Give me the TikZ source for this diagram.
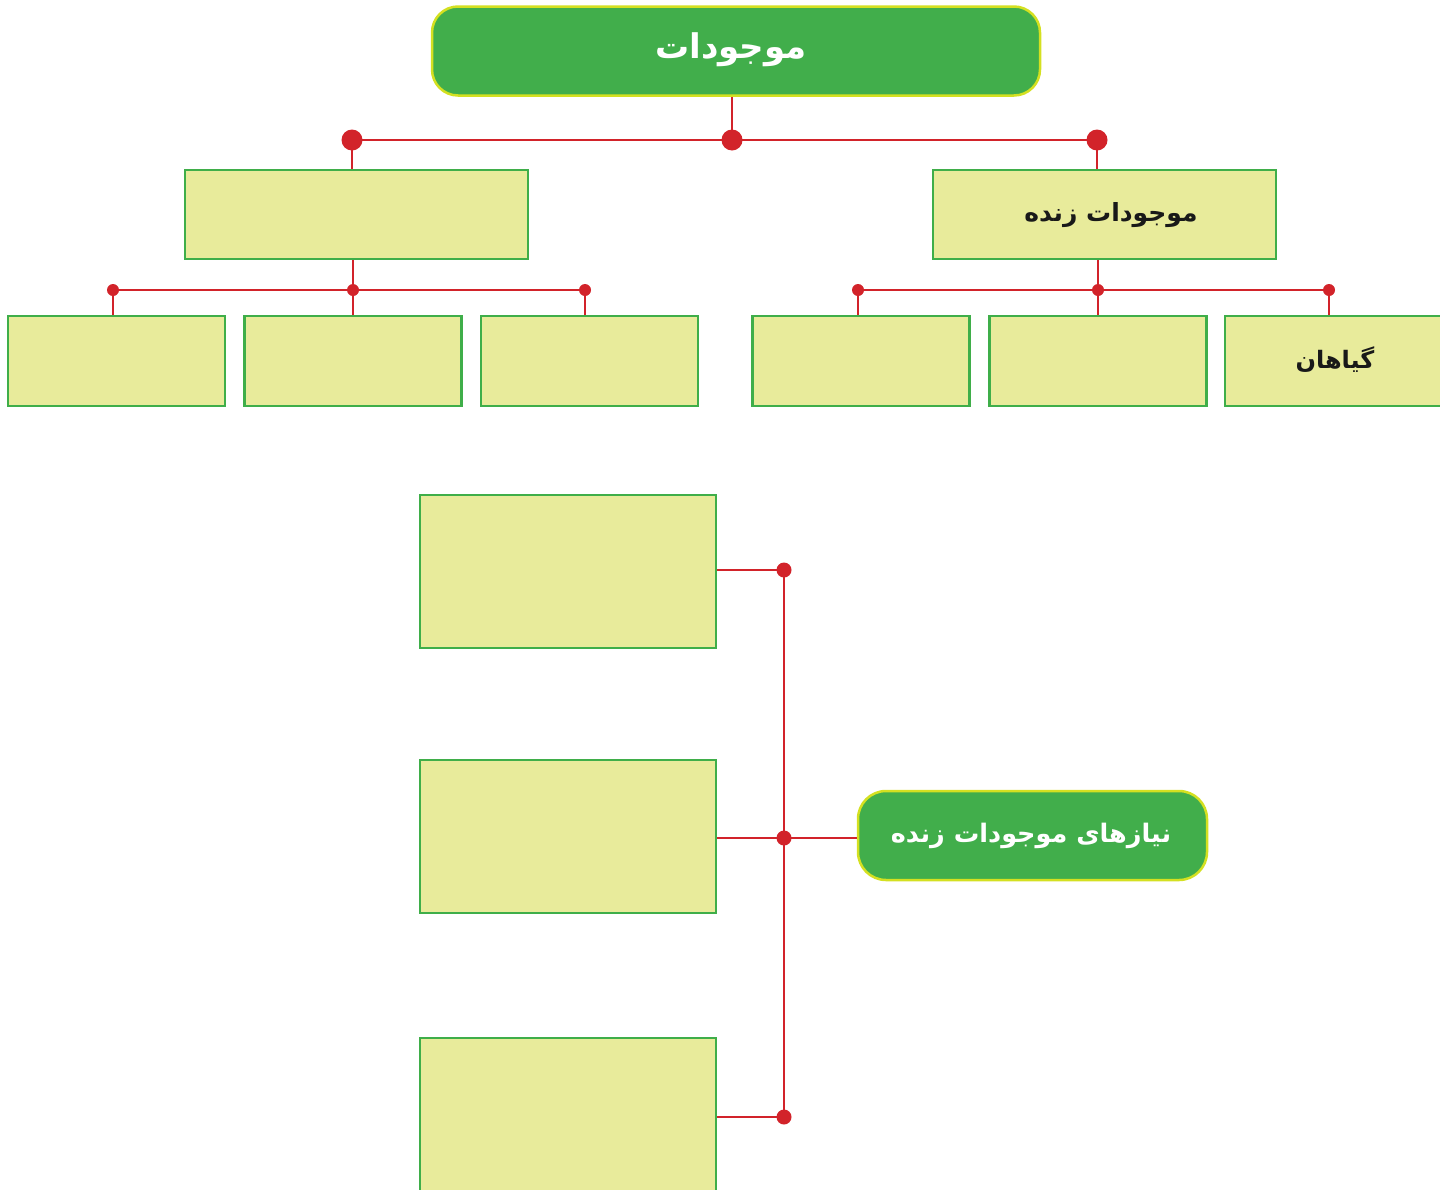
\documentclass[tikz,border=0pt]{standalone}
\usepackage{fontspec}
\newfontfamily\arabicfont[Script=Arabic]{DejaVu Sans}
\TeXXeTstate=1
\definecolor{gfill}{HTML}{41AE4B}
\definecolor{gedge}{HTML}{D4E021}
\definecolor{lfill}{HTML}{E8EB9B}
\definecolor{ledge}{HTML}{3FAE49}
\definecolor{rline}{HTML}{D2232A}
\tikzset{
  head/.style={draw=gedge, line width=2.5pt, fill=gfill, rounded corners=26pt, inner sep=0pt},
  cell/.style={draw=ledge, line width=2.5pt, fill=lfill, inner sep=0pt},
  whitetext/.style={text=white, font=\arabicfont\bfseries\fontsize{#1}{#1}\selectfont},
  darktext/.style={text=black!90, font=\arabicfont\bfseries\fontsize{#1}{#1}\selectfont},
  link/.style={draw=rline, line width=2.2pt},
  bigdot/.style={fill=rline, circle, inner sep=0pt, minimum size=21pt},
  smalldot/.style={fill=rline, circle, inner sep=0pt, minimum size=12pt},
}
\begin{document}
\begin{tikzpicture}[x=1pt,y=-1pt]
\useasboundingbox (0,0) rectangle (1440,1189);
% top
\node[head, minimum width=608pt, minimum height=89pt] (top) at (736,51) {};
\node[whitetext=34] (toptext) at (731,50) {\beginR موجودات\endR};
\coordinate (tc) at (732,140);
\coordinate (tl) at (352,140);
\coordinate (tr) at (1097,140);
\node[cell, minimum width=343pt, minimum height=89pt] (L1) at (356.5,214.5) {};
\node[cell, minimum width=343pt, minimum height=89pt] (R1) at (1104.5,214.5) {};
\node[darktext=25] (R1text) at (1111,215) {\beginR موجودات زنده\endR};
\draw[link] (top.south -| tc) -- (tc);
\draw[link] (tl) -- (tr);
\draw[link] (tl) -- (tl |- L1.north);
\draw[link] (tr) -- (tr |- R1.north);
\node[bigdot] at (tc) {};
\node[bigdot] at (tl) {};
\node[bigdot] at (tr) {};
% second row
\foreach \n/\x in {a/116.5,b/353,c/589.5,d/861,e/1098,f/1333.5}{
  \node[cell, minimum width=217pt, minimum height=90pt] (\n) at (\x,361) {};
}
\node[darktext=24] (ftext) at (1335,360) {\beginR گیاهان\endR};
\coordinate (la) at (113,290);
\coordinate (lb) at (353,290);
\coordinate (lc) at (585,290);
\coordinate (ra) at (858,290);
\coordinate (rb) at (1098,290);
\coordinate (rc) at (1329,290);
\draw[link, line width=1.8pt] (L1.south -| lb) -- (lb);
\draw[link, line width=1.8pt] (la) -- (lc);
\draw[link, line width=1.8pt] (R1.south -| rb) -- (rb);
\draw[link, line width=1.8pt] (ra) -- (rc);
\foreach \c/\b in {la/a,lb/b,lc/c,ra/d,rb/e,rc/f}{
  \draw[link, line width=1.8pt] (\c) -- (\c |- \b.north);
  \node[smalldot] at (\c) {};
}
% bottom
\node[cell, minimum width=296pt, minimum height=153pt] (n1) at (568,571.5) {};
\node[cell, minimum width=296pt, minimum height=153pt] (n2) at (568,836.5) {};
\node[cell, minimum width=296pt, minimum height=153pt] (n3) at (568,1114.5) {};
\node[head, minimum width=349pt, minimum height=89pt, rounded corners=28pt] (needs) at (1032.5,835.5) {};
\node[whitetext=25.5] (needstext) at (1031,836) {\beginR نیازهای موجودات زنده\endR};
\coordinate (v1) at (784,570);
\coordinate (v2) at (784,838);
\coordinate (v3) at (784,1117);
\draw[link, line width=1.8pt] (v1) -- (v3);
\draw[link, line width=1.8pt] (n1.east |- v1) -- (v1);
\draw[link, line width=1.8pt] (n2.east |- v2) -- (v2);
\draw[link, line width=1.8pt] (n3.east |- v3) -- (v3);
\draw[link, line width=1.8pt] (v2) -- (needs.west |- v2);
\node[smalldot, minimum size=15pt] at (v1) {};
\node[smalldot, minimum size=15pt] at (v2) {};
\node[smalldot, minimum size=15pt] at (v3) {};
\end{tikzpicture}
\end{document}
